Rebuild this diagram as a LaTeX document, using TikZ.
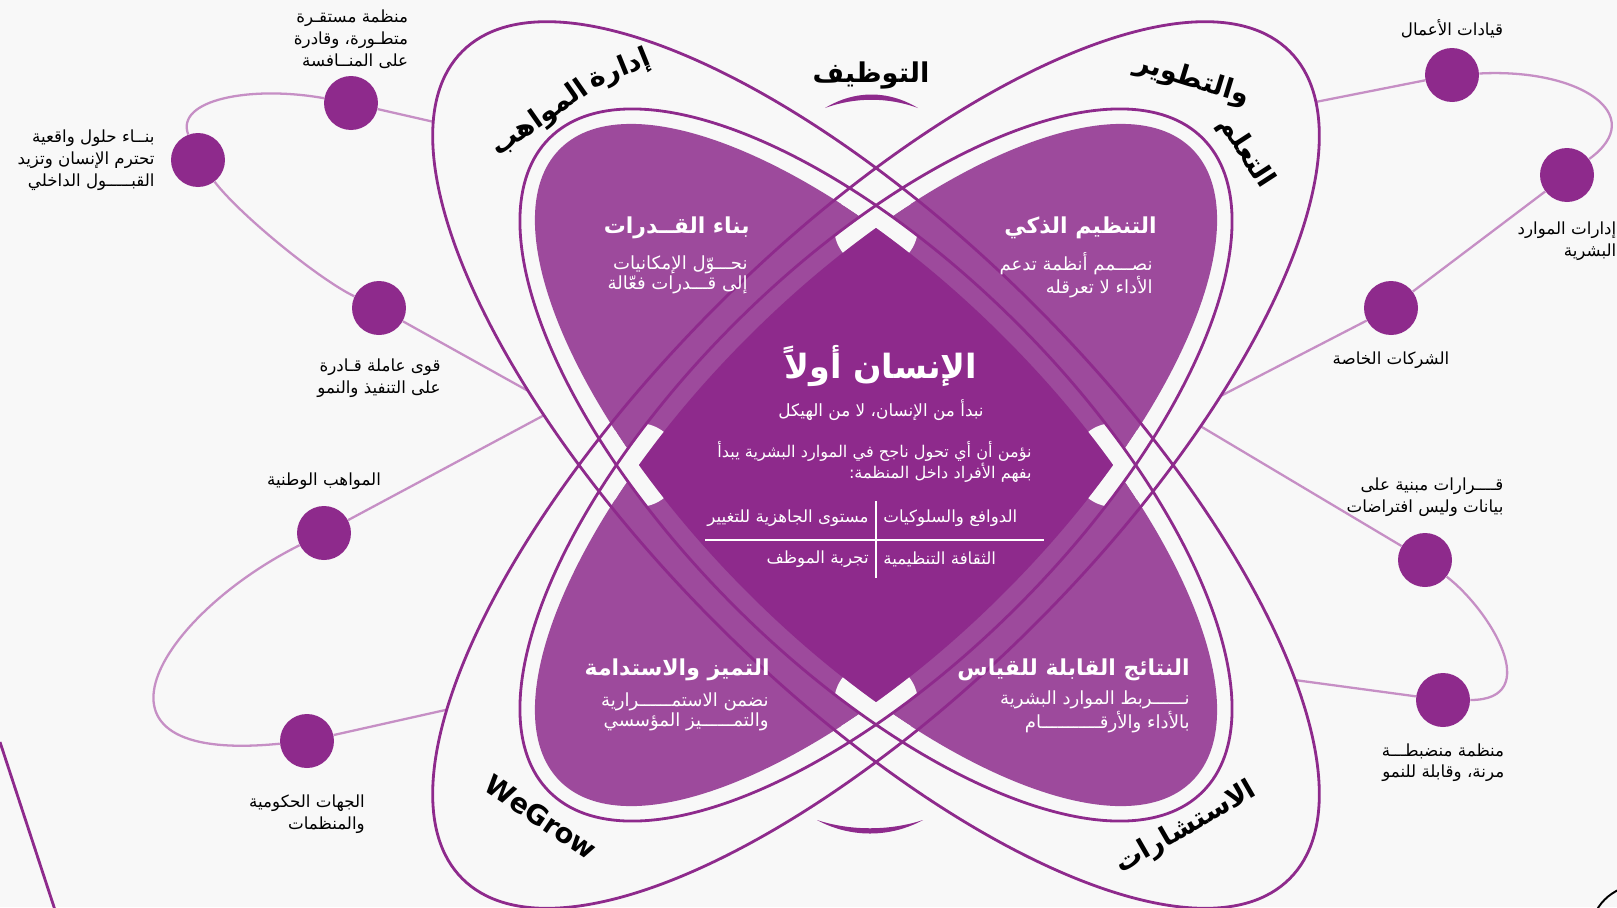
\documentclass[tikz,border=0pt]{standalone}
\usepackage{fontspec}
\TeXXeTstate=1
\newfontfamily\arabicfont[Script=Arabic]{DejaVu Sans}
\usetikzlibrary{positioning}
\definecolor{petal}{HTML}{8E2A8C}
\definecolor{petallight}{HTML}{9D4A9C}
\definecolor{orbitc}{HTML}{C68FC5}
\definecolor{paper}{HTML}{F8F8F8}
\newcommand*\artxt[1]{\beginR#1\endR}

\begin{document}
\begin{tikzpicture}[x=0.02cm, y=-0.02cm,
    ring/.style={draw=petal, line width=1.6pt},
    orbit/.style={draw=orbitc, line width=1.3pt},
    dot/.style={circle, fill=petal, minimum size=1.08cm, inner sep=0pt},
    lbl/.style={font=\arabicfont\fontsize{9.5}{12.4}\selectfont, align=right, inner sep=1pt},
    ttl/.style={font=\arabicfont\bfseries\fontsize{12.5}{15}\selectfont, text=white, inner sep=0pt},
    sub/.style={font=\arabicfont\fontsize{10.3}{11.4}\selectfont, text=white, align=right, inner sep=0pt},
    cell/.style={font=\arabicfont\fontsize{9.5}{11}\selectfont, text=white, inner sep=0pt},
    tag/.style={font=\arabicfont\bfseries\fontsize{15.5}{17}\selectfont, inner sep=0pt},
    tlbr/.style={rotate around={-45:(C)}},
    trbl/.style={rotate around={45:(C)}},
    node distance=4pt
  ]
  \fill[paper] (0,0) rectangle (1617,907);
  \useasboundingbox (0,0) rectangle (1617,907);
  \coordinate (C) at (876,465);

  % dots on the orbits
  \node[dot] (L1) at (351,103) {};
  \node[dot] (L2) at (198,160) {};
  \node[dot] (L3) at (379,308) {};
  \node[dot] (L4) at (324,533) {};
  \node[dot] (L5) at (307,741) {};
  \node[dot] (R1) at (1452,75) {};
  \node[dot] (R2) at (1567,175) {};
  \node[dot] (R3) at (1391,308) {};
  \node[dot] (R4) at (1425,560) {};
  \node[dot] (R5) at (1443,700) {};

  % orbits
  \coordinate (a0) at (478,132);
  \coordinate (a1) at (548,402);
  \coordinate (b0) at (550,412);
  \coordinate (b1) at (490,700);
  \coordinate (c0) at (1265,112);
  \coordinate (c1) at (1178,418);
  \coordinate (d0) at (1170,408);
  \coordinate (d1) at (1265,676);
  \draw[orbit] (a0) -- (L1) .. controls (250,85) and (175,100) .. (L2)
    .. controls (240,215) and (320,280) .. (L3) -- (a1);
  \draw[orbit] (b0) -- (L4) .. controls (160,615) and (65,765) .. (L5) -- (b1);
  \draw[orbit] (c0) -- (R1) .. controls (1580,68) and (1650,115) .. (R2) -- (R3) -- (c1);
  \draw[orbit] (d0) -- (R4) .. controls (1490,610) and (1545,700) .. (R5) -- (d1);

  % ring interiors
  \fill[paper, tlbr] (C) ellipse [x radius=585, y radius=225];
  \fill[paper, trbl] (C) ellipse [x radius=585, y radius=225];

  % petals
  \fill[petallight, tlbr] (C) ellipse [x radius=447, y radius=181];
  \fill[petallight, trbl] (C) ellipse [x radius=447, y radius=181];
  \begin{scope}
    \clip[tlbr] (C) ellipse [x radius=447, y radius=181];
    \fill[petal, trbl] (C) ellipse [x radius=447, y radius=181];
  \end{scope}

  % white cuts at the four crossings
  \coordinate (gT) at (876,227);
  \coordinate (gB) at (876,703);
  \coordinate (gL) at (638,465);
  \coordinate (gR) at (1114,465);
  \foreach \g in {gT,gB,gL,gR}{
    \begin{scope}
      \clip (\g) circle (42);
      \fill[paper, even odd rule, tlbr] (C) ellipse [x radius=462, y radius=200]
        (C) ellipse [x radius=447, y radius=181];
      \fill[paper, even odd rule, trbl] (C) ellipse [x radius=462, y radius=200]
        (C) ellipse [x radius=447, y radius=181];
    \end{scope}
  }

  % rings
  \draw[ring, tlbr] (C) ellipse [x radius=462, y radius=200];
  \draw[ring, trbl] (C) ellipse [x radius=462, y radius=200];
  \draw[ring, tlbr] (C) ellipse [x radius=585, y radius=225];
  \draw[ring, trbl] (C) ellipse [x radius=585, y radius=225];

  % small arcs
  \fill[petal] (825,108) .. controls (855,90) and (888,90) .. (918,108)
    .. controls (888,97) and (855,97) .. cycle;
  \fill[petal] (817,820) .. controls (850,838) and (890,838) .. (923,820)
    .. controls (890,831) and (850,831) .. cycle;

  % corner bits
  \coordinate (s0) at (0,742);
  \coordinate (s1) at (55,910);
  \draw[ring] (s0) -- (s1);
  \draw[black, line width=1.1pt] (1640,935) circle (50);

  % ring tags
  \node[tag] (tTop) at (871,75) {\artxt{التوظيف}};
  \node[tag, rotate=35] (tTL1) at (540,119) {\artxt{المواهب}};
  \node[tag, rotate=22] (tTL2) at (620,70) {\artxt{إدارة}};
  \node[tag, rotate=-17] (tTR1) at (1192,80) {\artxt{والتطوير}};
  \node[tag, rotate=-57] (tTR2) at (1246,153) {\artxt{التعلم}};
  \node[tag, rotate=-34] (tBL) at (541,817) {WeGrow};
  \node[tag, rotate=30] (tBR) at (1186,828) {\artxt{الاستشارات}};

  % petal texts
  \node[ttl, anchor=east] (pTL) at (750,228) {\artxt{بناء القــدرات}};
  \node[sub, anchor=east] (qTL) at (748,275) {\artxt{نحـــوّل الإمكانيات}\\\artxt{إلى قـــدرات فعّالة}};
  \node[ttl, anchor=east] (pTR) at (1157,228) {\artxt{التنظيم الذكي}};
  \node[sub, anchor=east] (qTR) at (1153,275) {\artxt{نصـــمم أنظمة تدعم}\\\artxt{الأداء لا تعرقله}};
  \node[ttl, anchor=east] (pBL) at (770,670) {\artxt{التميز والاستدامة}};
  \node[sub, anchor=east] (qBL) at (769,712) {\artxt{نضمن الاستمــــــرارية}\\\artxt{والتمــــــيز المؤسسي}};
  \node[ttl, anchor=east] (pBR) at (1190,670) {\artxt{النتائج القابلة للقياس}};
  \node[sub, anchor=east] (qBR) at (1190,712) {\artxt{نــــــربط الموارد البشرية}\\\artxt{بالأداء والأرقـــــــــــام}};

  % centre
  \node[font=\arabicfont\bfseries\fontsize{19}{22}\selectfont, text=white] (hd) at (881,366) {\artxt{الإنسان أولاً}};
  \node[font=\arabicfont\fontsize{9.6}{12}\selectfont, text=white] (hs) at (881,410) {\artxt{نبدأ من الإنسان، لا من الهيكل}};
  \node[sub, font=\arabicfont\fontsize{9.2}{12.4}\selectfont, anchor=east] (hb) at (1032,462) {\artxt{نؤمن أن أي تحول ناجح في الموارد البشرية يبدأ}\\\artxt{بفهم الأفراد داخل المنظمة:}};
  \coordinate (v0) at (876,501);
  \coordinate (v1) at (876,578);
  \coordinate (h0) at (705,540);
  \coordinate (h1) at (1044,540);
  \draw[white, line width=0.7pt] (v0) -- (v1);
  \draw[white, line width=0.7pt] (h0) -- (h1);
  \node[cell, anchor=west] (c11) at (883,518) {\artxt{الدوافع والسلوكيات}};
  \node[cell, anchor=west] (c21) at (883,559) {\artxt{الثقافة التنظيمية}};
  \node[cell, anchor=east] (c12) at (869,518) {\artxt{مستوى الجاهزية للتغيير}};
  \node[cell, anchor=east] (c22) at (869,559) {\artxt{تجربة الموظف}};

  % orbit labels
  \node[lbl, above=3pt of L1] (n1) {\artxt{منظمة مستقـرة}\\\artxt{متطـورة، وقادرة}\\\artxt{على المنــافسة}};
  \node[lbl, left=8pt of L2] (n2) {\artxt{بنــاء حلول واقعية}\\\artxt{تحترم الإنسان وتزيد}\\\artxt{القبـــــول الداخلي}};
  \node[lbl, below=12pt of L3] (n3) {\artxt{قوى عاملة قـادرة}\\\artxt{على التنفيذ والنمو}};
  \node[lbl, above=8pt of L4] (n4) {\artxt{المواهب الوطنية}};
  \node[lbl, below=14pt of L5] (n5) {\artxt{الجهات الحكومية}\\\artxt{والمنظمات}};
  \node[lbl, above=4pt of R1] (m1) {\artxt{قيادات الأعمال}};
  \node[lbl, below=10pt of R2] (m2) {\artxt{إدارات الموارد}\\\artxt{البشرية}};
  \node[lbl, below=8pt of R3] (m3) {\artxt{الشركات الخاصة}};
  \node[lbl, above=8pt of R4] (m4) {\artxt{قــــرارات مبنية على}\\\artxt{بيانات وليس افتراضات}};
  \node[lbl, below=8pt of R5] (m5) {\artxt{منظمة منضبطـــة}\\\artxt{مرنة، وقابلة للنمو}};
\end{tikzpicture}
\end{document}
